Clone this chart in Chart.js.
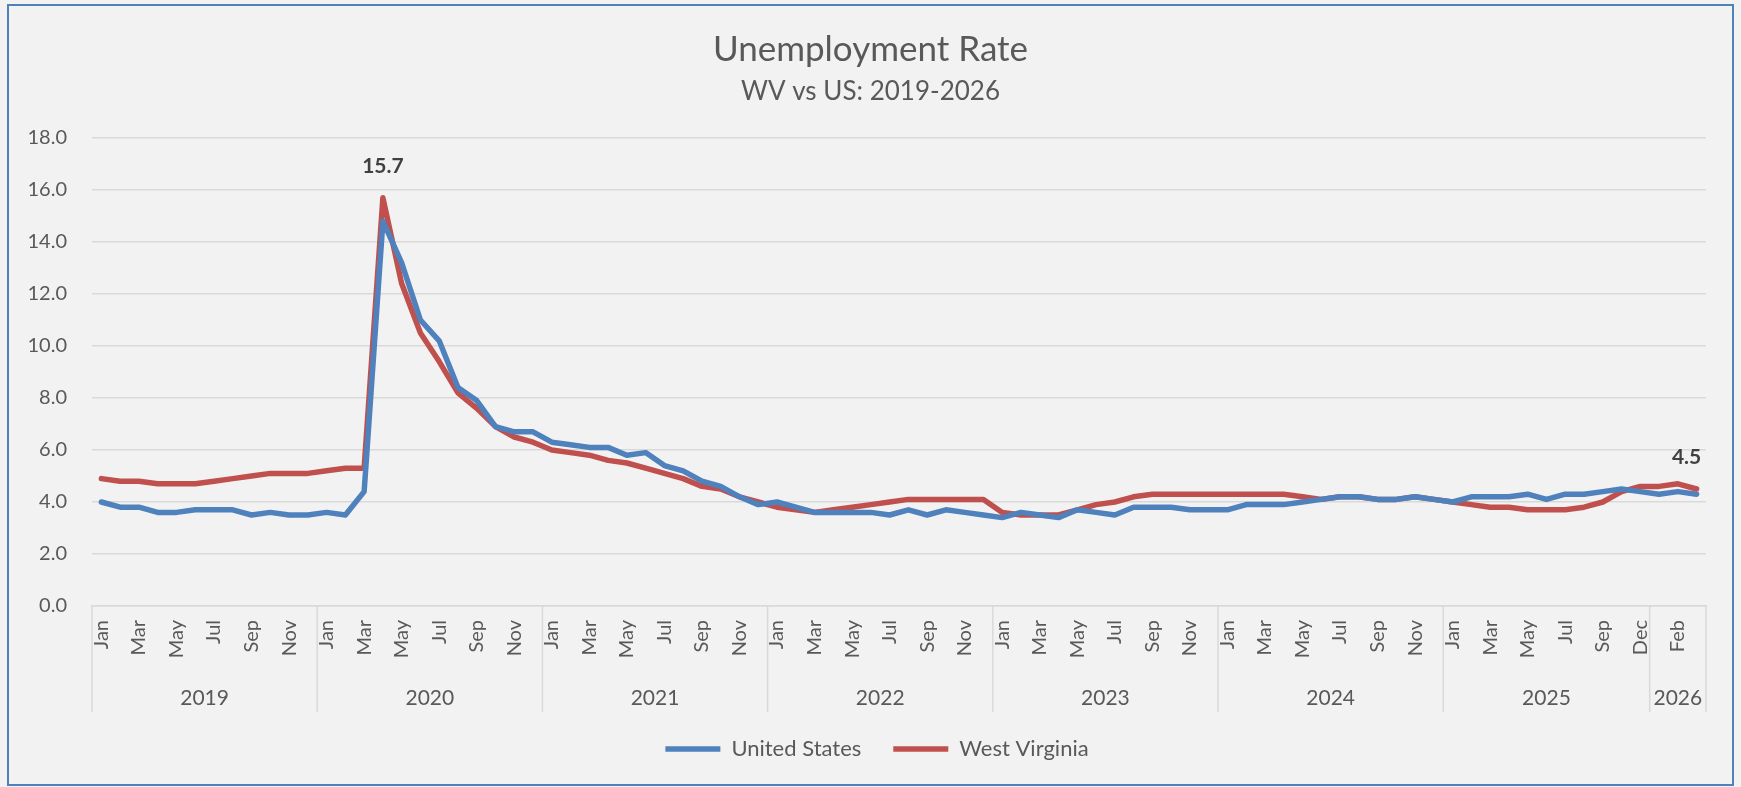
<!DOCTYPE html>
<html>
<head>
<meta charset="utf-8">
<title>Unemployment Rate</title>
<script src="https://cdn.jsdelivr.net/npm/chart.js@4.4.1/dist/chart.umd.min.js"></script>
<style>
  html, body { margin: 0; padding: 0; background: #f2f2f2; }
  canvas { display: block; }
</style>
</head>
<body>
<canvas id="myChart" width="1741" height="787"></canvas>
<script>
// months shown on the axis, grouped by year (Oct 2025 has no data)
var fullYear = ['Jan', 'Feb', 'Mar', 'Apr', 'May', 'Jun', 'Jul', 'Aug', 'Sep', 'Oct', 'Nov', 'Dec'];
var years = ['2019', '2020', '2021', '2022', '2023', '2024', '2025', '2026'];
var yearMonths = [
    fullYear, fullYear, fullYear, fullYear, fullYear, fullYear,
    ['Jan', 'Feb', 'Mar', 'Apr', 'May', 'Jun', 'Jul', 'Aug', 'Sep', 'Nov', 'Dec'],
    ['Jan', 'Feb', 'Mar']
];
var categories = yearMonths.flat();

var usRate = [
    4.0, 3.8, 3.8, 3.6, 3.6, 3.7, 3.7, 3.7, 3.5, 3.6, 3.5, 3.5,
    3.6, 3.5, 4.4, 14.8, 13.2, 11.0, 10.2, 8.4, 7.9, 6.9, 6.7, 6.7,
    6.3, 6.2, 6.1, 6.1, 5.8, 5.9, 5.4, 5.2, 4.8, 4.6, 4.2, 3.9,
    4.0, 3.8, 3.6, 3.6, 3.6, 3.6, 3.5, 3.7, 3.5, 3.7, 3.6, 3.5,
    3.4, 3.6, 3.5, 3.4, 3.7, 3.6, 3.5, 3.8, 3.8, 3.8, 3.7, 3.7,
    3.7, 3.9, 3.9, 3.9, 4.0, 4.1, 4.2, 4.2, 4.1, 4.1, 4.2, 4.1,
    4.0, 4.2, 4.2, 4.2, 4.3, 4.1, 4.3, 4.3, 4.4, 4.5, 4.4,
    4.3, 4.4, 4.3
];
var wvRate = [
    4.9, 4.8, 4.8, 4.7, 4.7, 4.7, 4.8, 4.9, 5.0, 5.1, 5.1, 5.1,
    5.2, 5.3, 5.3, 15.7, 12.4, 10.5, 9.4, 8.2, 7.6, 6.9, 6.5, 6.3,
    6.0, 5.9, 5.8, 5.6, 5.5, 5.3, 5.1, 4.9, 4.6, 4.5, 4.2, 4.0,
    3.8, 3.7, 3.6, 3.7, 3.8, 3.9, 4.0, 4.1, 4.1, 4.1, 4.1, 4.1,
    3.6, 3.5, 3.5, 3.5, 3.7, 3.9, 4.0, 4.2, 4.3, 4.3, 4.3, 4.3,
    4.3, 4.3, 4.3, 4.3, 4.2, 4.1, 4.2, 4.2, 4.1, 4.1, 4.2, 4.1,
    4.0, 3.9, 3.8, 3.8, 3.7, 3.7, 3.7, 3.8, 4.0, 4.4, 4.6,
    4.6, 4.7, 4.5
];
var yTicks = [0, 2, 4, 6, 8, 10, 12, 14, 16, 18];
var labelledPoints = [15, 85]; // WV points that carry a value label

var FONT = 'Lato, "Open Sans", sans-serif';
var TEXT = '#595959';
var GRID = '#d9d9d9';

// title, border, year row of the axis and the two value labels
var excelBits = {
    id: 'excelBits',
    afterLayout: function (chart) {
        // legend sits a bit right of the canvas centre, as in the sheet
        if (chart.legend) chart.legend.left = 48;
    },
    beforeDraw: function (chart) {
        var c = chart.ctx;
        c.save();
        c.fillStyle = '#f2f2f2';
        c.fillRect(0, 0, chart.width, chart.height);
        c.strokeStyle = '#4f81bd';
        c.lineWidth = 2;
        c.strokeRect(8, 5, chart.width - 16, chart.height - 7);
        c.fillStyle = TEXT;
        c.textAlign = 'center';
        c.textBaseline = 'middle';
        c.font = '35px ' + FONT;
        c.fillText('Unemployment Rate', chart.width / 2, 50);
        c.font = '26px ' + FONT;
        c.fillText('WV vs US: 2019-2026', chart.width / 2, 92);
        c.restore();
    },
    afterDraw: function (chart) {
        var c = chart.ctx;
        var x = chart.scales.x;
        var area = chart.chartArea;
        c.save();
        // year separators and names
        var start = 0;
        var edges = [area.left];
        c.strokeStyle = GRID;
        c.lineWidth = 1.5;
        c.fillStyle = TEXT;
        c.font = '21px ' + FONT;
        c.textAlign = 'center';
        c.textBaseline = 'middle';
        yearMonths.forEach(function (m, k) {
            var end = start + m.length;
            var right = end < categories.length
                ? (x.getPixelForValue(end - 1) + x.getPixelForValue(end)) / 2
                : area.right;
            var left = edges[edges.length - 1];
            edges.push(right);
            c.fillText(years[k], (left + right) / 2, 698);
            start = end;
        });
        edges.forEach(function (e) {
            c.beginPath();
            c.moveTo(e, area.bottom);
            c.lineTo(e, 712);
            c.stroke();
        });
        // value labels
        var meta = chart.getDatasetMeta(1);
        c.fillStyle = '#404040';
        c.font = 'bold 21px ' + FONT;
        labelledPoints.forEach(function (i, n) {
            var p = meta.data[i];
            c.fillText(wvRate[i].toFixed(1), p.x - (n === 1 ? 10 : 0), p.y - 32);
        });
        c.restore();
    }
};

var ctx = document.getElementById('myChart').getContext('2d');
var myChart = new Chart(ctx, {
    type: 'line',
    data: {
        labels: categories,
        datasets: [{
            label: 'United States',
            data: usRate,
            borderColor: '#4f81bd',
            backgroundColor: '#4f81bd',
            borderWidth: 5.5,
            pointRadius: 0,
            borderJoinStyle: 'round',
            borderCapStyle: 'round',
            tension: 0
        }, {
            label: 'West Virginia',
            data: wvRate,
            borderColor: '#c0504d',
            backgroundColor: '#c0504d',
            borderWidth: 5.5,
            pointRadius: 0,
            borderJoinStyle: 'round',
            borderCapStyle: 'round',
            tension: 0
        }]
    },
    options: {
        responsive: false,
        animation: false,
        devicePixelRatio: 1,
        layout: { padding: { left: 0, right: 35, top: 138, bottom: 17 } },
        plugins: {
            title: { display: false },
            tooltip: { enabled: false },
            legend: {
                position: 'bottom',
                labels: {
                    usePointStyle: true,
                    pointStyle: 'line',
                    pointStyleWidth: 55,
                    padding: 32,
                    color: TEXT,
                    font: { family: FONT, size: 22 }
                }
            }
        },
        scales: {
            x: {
                offset: true,
                grid: { display: false, drawTicks: false },
                border: { display: true, color: GRID, width: 1.5 },
                ticks: {
                    autoSkip: false,
                    minRotation: 90,
                    maxRotation: 90,
                    padding: 14,
                    color: TEXT,
                    font: { family: FONT, size: 20 },
                    callback: function (v, i) { return i % 2 === 0 ? categories[i] : ''; }
                },
                afterFit: function (s) { s.height = 100; }
            },
            y: {
                min: 0,
                max: 18,
                afterBuildTicks: function (s) { s.ticks = yTicks.map(function (v) { return { value: v }; }); },
                grid: { color: GRID, lineWidth: 1.5, drawTicks: false },
                border: { display: false },
                ticks: {
                    padding: 25,
                    color: TEXT,
                    font: { family: FONT, size: 20 },
                    callback: function (v) { return v.toFixed(1); }
                },
                afterFit: function (s) { s.width = 92; }
            }
        }
    },
    plugins: [excelBits]
});
</script>
</body>
</html>
